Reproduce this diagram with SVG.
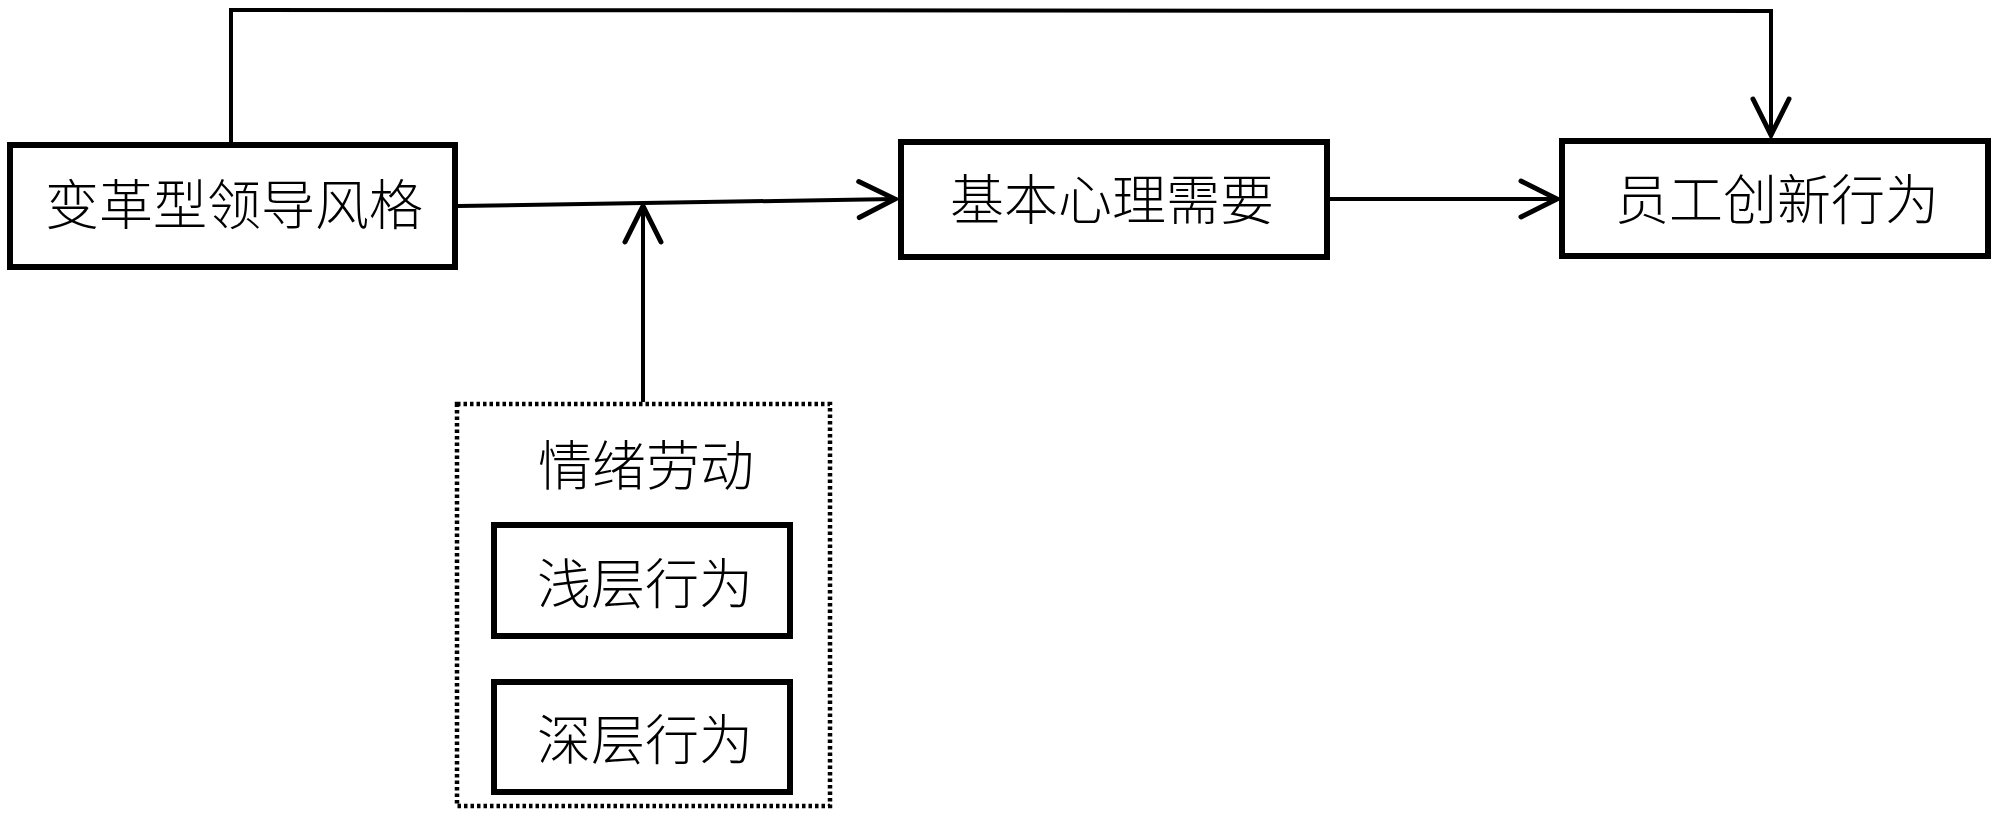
<svg xmlns="http://www.w3.org/2000/svg" width="1999" height="817" viewBox="0 0 1999 817">
  <style>
    .box { fill: #ffffff; stroke: #000000; stroke-width: 6; }
    .dotted { fill: none; stroke: #000000; stroke-width: 4.5; stroke-dasharray: 3.5 3; stroke-linecap: butt; }
    .conn { fill: none; stroke: #000000; stroke-width: 4; stroke-linejoin: miter; }
    .lbl { font-family: "Noto Sans CJK SC", "Noto Sans CJK JP", sans-serif; font-size: 54px; font-weight: 300; fill: #000000; text-anchor: middle; }
  </style>
  <defs>
    <marker id="open" viewBox="-40 -22 44 44" markerWidth="44" markerHeight="44" refX="0" refY="0" orient="auto" markerUnits="userSpaceOnUse">
      <path d="M-36,-18 L0,0 L-36,18" fill="none" stroke="#000000" stroke-width="5" stroke-linecap="round" stroke-linejoin="miter"/>
    </marker>
  </defs>
  <rect width="1999" height="817" fill="#ffffff"/>

  <g id="connectors">
    <polyline class="conn" points="231,142 231,10 1771,11 1771,135" stroke-width="4.5" marker-end="url(#open)"/>
    <line class="conn" x1="458" y1="206" x2="895" y2="199" stroke-width="5" marker-end="url(#open)"/>
    <line class="conn" x1="643" y1="402" x2="643" y2="206" marker-end="url(#open)"/>
    <line class="conn" x1="1330" y1="199" x2="1557" y2="199" stroke-width="5" marker-end="url(#open)"/>
  </g>

  <g id="transformational-leadership">
    <rect class="box" x="10" y="145" width="445" height="122"/>
    <text class="lbl" x="234" y="225">变革型领导风格</text>
  </g>

  <g id="basic-psychological-needs">
    <rect class="box" x="901" y="142" width="426" height="115"/>
    <text class="lbl" x="1112" y="220">基本心理需要</text>
  </g>

  <g id="employee-innovation">
    <rect class="box" x="1562" y="141" width="426" height="115"/>
    <text class="lbl" x="1777" y="220">员工创新行为</text>
  </g>

  <g id="emotional-labor">
    <rect class="dotted" x="457" y="404" width="373" height="402"/>
    <text class="lbl" x="646" y="486">情绪劳动</text>
  </g>

  <g id="surface-acting">
    <rect class="box" x="494" y="525" width="296" height="111"/>
    <text class="lbl" x="645" y="604">浅层行为</text>
  </g>

  <g id="deep-acting">
    <rect class="box" x="494" y="682" width="296" height="110"/>
    <text class="lbl" x="645" y="760">深层行为</text>
  </g>
</svg>
